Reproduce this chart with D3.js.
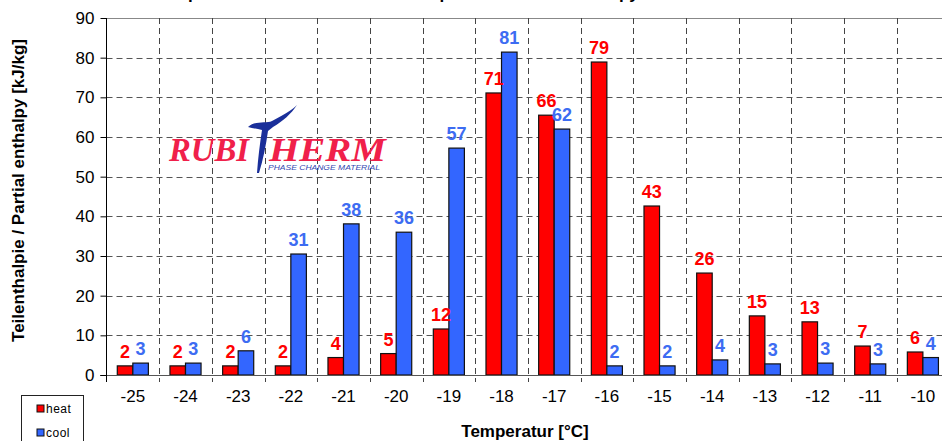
<!DOCTYPE html>
<html>
<head>
<meta charset="utf-8">
<script src="https://cdn.jsdelivr.net/npm/d3@7"></script>
<style>
  body { margin: 0; background: #fff; }
  svg { display: block; font-family: "Liberation Sans", Arial, sans-serif; }
</style>
</head>
<body>
<div class="chart"></div>
<script>
var temps = ["-25", "-24", "-23", "-22", "-21", "-20", "-19", "-18", "-17", "-16", "-15", "-14", "-13", "-12", "-11", "-10"];
var heat = [2.3, 2.3, 2.3, 2.3, 4.4, 5.4, 11.6, 71.1, 65.5, 78.9, 42.6, 25.7, 14.9, 13.4, 7.3, 5.8];
var cool = [3.0, 3.0, 6.1, 30.5, 38.1, 36.0, 57.2, 81.4, 62.0, 2.3, 2.3, 3.8, 2.8, 3.0, 2.8, 4.4];
var yTicks = [0, 10, 20, 30, 40, 50, 60, 70, 80, 90];
var seriesNames = ["heat", "cool"];

function init() {
    var w = 942;
    var h = 441;
    var left = 106.5;
    var plotTop = 18;
    var bottom = 375;
    var bandW = 52.67;

    var dataset = temps.map(function (t, i) {
        return { t: t, heat: heat[i], cool: cool[i] };
    });

    var colors = { heat: "#ff0000", cool: "#3366ff" };
    var labelColors = { heat: "#ff0000", cool: "#3d6cf2" };

    var svg = d3.select(".chart")
        .append("svg")
        .attr("width", w)
        .attr("height", h);

    var xScale = d3.scaleBand()
        .domain(temps)
        .range([left, left + bandW * temps.length]);

    var x1 = d3.scaleBand()
        .domain(seriesNames)
        .range([xScale.bandwidth() * 0.205, xScale.bandwidth() * 0.795]);

    var yScale = d3.scaleLinear()
        .domain([0, 90])
        .range([bottom, plotTop]);

    // title, mostly above the picture
    svg.append("text")
        .attr("x", 110)
        .attr("y", -1)
        .style("font-size", "17px")
        .style("font-weight", "bold")
        .text("Teilenthalpie im Bereich der Schmelztemperatur / Partial enthalpy");

    // horizontal dashed grid
    svg.append("g")
        .selectAll("line")
        .data(yTicks.filter(function (d) { return d > 0 && d < 90; }))
        .enter()
        .append("line")
        .attr("x1", left)
        .attr("x2", w)
        .attr("y1", function (d) { return Math.round(yScale(d)) + 0.5; })
        .attr("y2", function (d) { return Math.round(yScale(d)) + 0.5; })
        .style("stroke", "#555")
        .style("stroke-dasharray", "6,4");

    // top border
    svg.append("line")
        .attr("x1", left)
        .attr("x2", w)
        .attr("y1", yScale(90) + 0.5)
        .attr("y2", yScale(90) + 0.5)
        .style("stroke", "#888");

    // vertical dashed grid at band boundaries
    svg.append("g")
        .selectAll("line")
        .data(temps.slice(1))
        .enter()
        .append("line")
        .attr("x1", function (d) { return Math.round(xScale(d)) + 0.5; })
        .attr("x2", function (d) { return Math.round(xScale(d)) + 0.5; })
        .attr("y1", plotTop)
        .attr("y2", bottom + 7)
        .style("stroke", "#444")
        .style("stroke-dasharray", "6,4");

    // logo
    var logo = svg.append("g").attr("class", "logo");
    logo.append("text")
        .attr("x", 169)
        .attr("y", 161)
        .attr("textLength", 80)
        .attr("lengthAdjust", "spacingAndGlyphs")
        .style("font-family", "'Liberation Serif', serif")
        .style("font-style", "italic")
        .style("font-weight", "bold")
        .style("font-size", "33px")
        .style("fill", "#f0204a")
        .text("RUBI");
    logo.append("text")
        .attr("x", 269)
        .attr("y", 161)
        .attr("textLength", 117)
        .attr("lengthAdjust", "spacingAndGlyphs")
        .style("font-family", "'Liberation Serif', serif")
        .style("font-style", "italic")
        .style("font-weight", "bold")
        .style("font-size", "33px")
        .style("fill", "#f0204a")
        .text("HERM");
    logo.append("path")
        .attr("d", "M248,127 C256,120 266,124 272,121 C282,116 292,110 297,105 C291,114 283,121 273,127 L268,131 C266,145 263,160 259,173 L257,173 C258,158 260,143 262,130 C257,129 252,128 248,127 Z")
        .style("fill", "#1a2f9a");
    logo.append("text")
        .attr("x", 268)
        .attr("y", 170)
        .attr("textLength", 112)
        .attr("lengthAdjust", "spacingAndGlyphs")
        .style("font-style", "italic")
        .style("font-size", "8px")
        .style("fill", "#3346b0")
        .text("PHASE CHANGE MATERIAL");

    // bars
    var groups = svg.append("g")
        .selectAll("g")
        .data(dataset)
        .enter()
        .append("g")
        .attr("transform", function (d) { return "translate(" + xScale(d.t) + ",0)"; });

    var pairs = function (d) {
        return seriesNames.map(function (k) { return { key: k, value: d[k] }; });
    };

    groups.selectAll("rect")
        .data(pairs)
        .enter()
        .append("rect")
        .attr("x", function (d) { return x1(d.key); })
        .attr("y", function (d) { return yScale(d.value); })
        .attr("width", x1.bandwidth())
        .attr("height", function (d) { return yScale(0) - yScale(d.value); })
        .style("fill", function (d) { return colors[d.key]; })
        .style("stroke", "#111")
        .style("stroke-width", 1.2);

    groups.selectAll("text")
        .data(pairs)
        .enter()
        .append("text")
        .attr("x", function (d) { return x1(d.key) + x1.bandwidth() / 2; })
        .attr("y", function (d) { return yScale(d.value) - 8; })
        .attr("text-anchor", "middle")
        .style("font-size", "18px")
        .style("font-weight", "bold")
        .style("fill", function (d) { return labelColors[d.key]; })
        .text(function (d) { return Math.round(d.value); });

    // x axis
    var xAxis = d3.axisBottom(xScale).tickSize(0).tickPadding(14);
    var gx = svg.append("g")
        .attr("class", "axis")
        .attr("transform", "translate(0," + (bottom + 0.5) + ")")
        .call(xAxis);
    gx.select(".domain").remove();
    gx.selectAll("text")
        .style("font-size", "17px")
        .style("fill", "#000");
    svg.append("line")
        .attr("x1", 100)
        .attr("x2", w)
        .attr("y1", bottom + 0.5)
        .attr("y2", bottom + 0.5)
        .style("stroke", "#555");

    // y axis
    var yAxis = d3.axisLeft(yScale).tickValues(yTicks).tickSize(6).tickPadding(6);
    var gy = svg.append("g")
        .attr("class", "axis")
        .attr("transform", "translate(" + left + ",0)")
        .call(yAxis);
    gy.select(".domain").attr("d", "M0," + plotTop + "V" + (bottom + 7)).style("stroke", "#000");
    gy.selectAll("text")
        .style("font-size", "17px")
        .style("fill", "#000");

    // axis titles
    svg.append("text")
        .attr("transform", "translate(24," + ((plotTop + bottom) / 2 - 6) + ") rotate(-90)")
        .attr("text-anchor", "middle")
        .style("font-size", "17px")
        .style("font-weight", "bold")
        .text("Teilenthalpie / Partial enthalpy [kJ/kg]");

    svg.append("text")
        .attr("x", 525)
        .attr("y", 437)
        .attr("text-anchor", "middle")
        .style("font-size", "17px")
        .style("font-weight", "bold")
        .text("Temperatur [°C]");

    // legend
    var legend = svg.append("g");
    legend.append("rect")
        .attr("x", 21.5)
        .attr("y", 395.5)
        .attr("width", 62)
        .attr("height", 60)
        .style("fill", "#fff")
        .style("stroke", "#222");
    var items = legend.selectAll("g.item")
        .data(seriesNames)
        .enter()
        .append("g")
        .attr("class", "item")
        .attr("transform", function (d, i) { return "translate(37," + (405 + i * 24) + ")"; });
    items.append("rect")
        .attr("width", 7)
        .attr("height", 7)
        .style("fill", function (d) { return colors[d]; })
        .style("stroke", "#111");
    items.append("text")
        .attr("x", 9)
        .attr("y", 8)
        .style("font-size", "12px")
        .style("letter-spacing", "0.5px")
        .text(function (d) { return d; });
}

init()
</script>
</body>
</html>
